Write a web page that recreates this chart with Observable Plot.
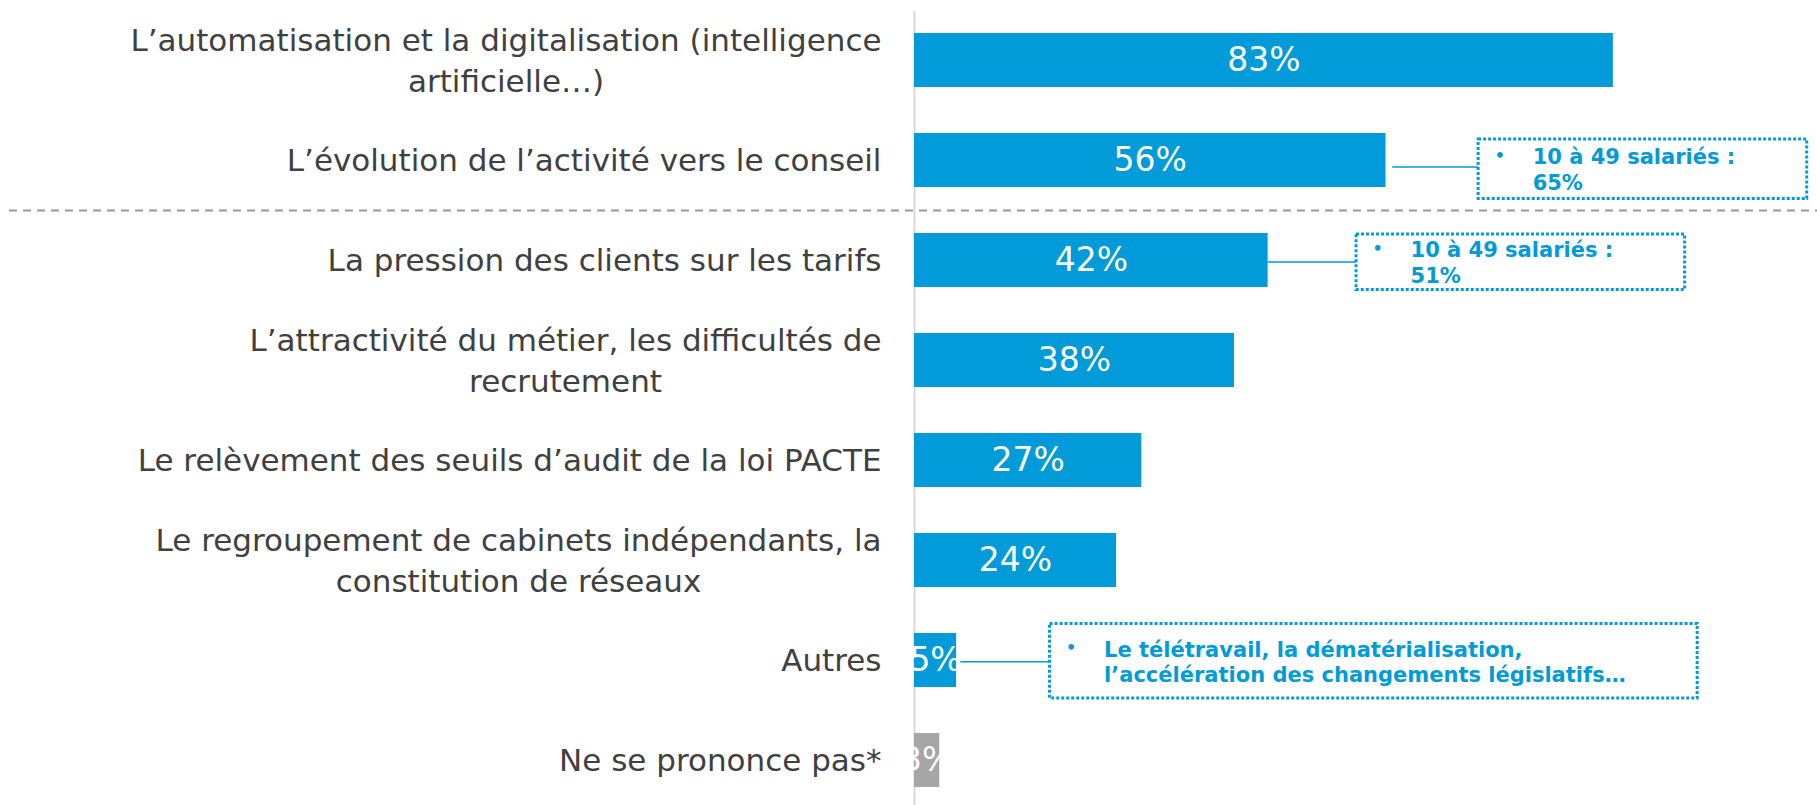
<!DOCTYPE html>
<html><head><meta charset="utf-8">
<script src="https://cdn.jsdelivr.net/npm/d3@7"></script>
<script src="https://cdn.jsdelivr.net/npm/@observablehq/plot@0.6"></script>
<style>
html,body{margin:0;padding:0;background:#fff;}
#chart{width:1817px;height:805px;overflow:hidden;}
</style>
</head><body><div id="chart"></div>
<script>
// ---- data ----
const categories = [
  "L’automatisation et la digitalisation (intelligence\nartificielle…)",
  "L’évolution de l’activité vers le conseil",
  "La pression des clients sur les tarifs",
  "L’attractivité du métier, les difficultés de\nrecrutement",
  "Le relèvement des seuils d’audit de la loi PACTE",
  "Le regroupement de cabinets indépendants, la\nconstitution de réseaux",
  "Autres",
  "Ne se prononce pas*"
];
const values = [83, 56, 42, 38, 27, 24, 5, 3];
const valueLabels = ["83%", "56%", "42%", "38%", "27%", "24%", "5%", "3%"];
const isNoAnswer = [false, false, false, false, false, false, false, true];
const noteCategories = [categories[1], categories[2], categories[6]];
const noteTexts = [
  "10 à 49 salariés :\n65%",
  "10 à 49 salariés :\n51%",
  "Le télétravail, la dématérialisation,\nl’accélération des changements législatifs…"
];
const separatorCategory = categories[2];

// ---- layout / style ----
const W = 1817, H = 805;
const mLeft = 914, mRight = 61, mTop = 32, mBottom = 16;
const BLUE = "#009bd8", GRAY = "#a6a6a6", TXT = "#404040";
const FONT = "'DejaVu Sans', Verdana, sans-serif";
const NOTE_FS = 21;
const pxPerUnit = (W - mLeft - mRight) / 100;

const rows = categories.map((c, i) => ({cat: c, value: values[i], label: valueLabels[i], nsp: isNoAnswer[i]}));

const ctx = document.createElement("canvas").getContext("2d");
ctx.font = `bold ${NOTE_FS}px ${FONT}`;
const measure = (t) => Math.max(...t.split("\n").map(l => ctx.measureText(l).width));

const noteLayout = [
  {offset: 11, gap: 0.8, dy: 8.5, lineDy: 6.5, top: 6, bottom: -11.4},
  {offset: 10.5, gap: 0, dy: 1.5, lineDy: 1.5, top: 1, bottom: -2.5},
  {offset: 11.1, gap: 0.5, dy: 0.8, lineDy: 1.3, top: -9.5, bottom: -11}
];
const TEXT_DX = 54, BULLET_DX = 16, PAD_RIGHT = 72;
const notes = noteCategories.map((c, i) => {
  const v = values[categories.indexOf(c)];
  const L = noteLayout[i];
  const left = v + L.offset;
  const widthPx = TEXT_DX + measure(noteTexts[i]) + PAD_RIGHT;
  return {cat: c, value: v, text: noteTexts[i], left, right: left + widthPx / pxPerUnit, L};
});

const noteMarks = notes.flatMap(n => [
  Plot.ruleY([n], {y: "cat", x1: d => d.value + n.L.gap, x2: "left", stroke: BLUE, strokeWidth: 1.5, dy: n.L.lineDy}),
  Plot.barX([n], {y: "cat", x1: "left", x2: "right", fill: "white", stroke: BLUE, strokeWidth: 3,
    strokeDasharray: "3,2", insetTop: n.L.top, insetBottom: n.L.bottom}),
  Plot.text([n], {y: "cat", x: "left", text: () => "•", dx: BULLET_DX, dy: n.L.dy - 13,
    textAnchor: "start", fill: BLUE, fontSize: 16, fontWeight: "bold"}),
  Plot.text([n], {y: "cat", x: "left", text: "text", dx: TEXT_DX, dy: n.L.dy, textAnchor: "start",
    fill: BLUE, fontSize: NOTE_FS, fontWeight: "bold", lineHeight: 1.22})
]);

const plot = Plot.plot({
  width: W, height: H,
  marginLeft: mLeft, marginRight: mRight, marginTop: mTop, marginBottom: mBottom,
  style: {fontFamily: FONT, background: "white", overflow: "visible"},
  x: {domain: [0, 100], axis: null},
  y: {domain: categories, paddingInner: 0.457, paddingOuter: 0, axis: null},
  color: {type: "identity"},
  marks: [
    Plot.ruleX([0], {stroke: "#d9d9d9", strokeWidth: 2, insetTop: -21, insetBottom: -16}),
    Plot.ruleY([separatorCategory], {y: d => d, dy: -50, stroke: "#999999", strokeWidth: 2,
      strokeDasharray: "8,6", insetLeft: -905, insetRight: -61}),
    Plot.barX(rows, {y: "cat", x: "value", fill: d => d.nsp ? GRAY : BLUE}),
    Plot.text(rows, {y: "cat", x: d => d.value / 2, text: "label", fill: "white", fontSize: 33}),
    Plot.text(rows, {y: "cat", text: "cat", frameAnchor: "left", textAnchor: "end", dx: -33, dy: -2,
      fill: TXT, fontSize: 31, lineHeight: 1.3, ariaDescription: "category-labels"}),
    ...noteMarks
  ]
});
document.getElementById("chart").appendChild(plot);

// center the lines of multi-line category labels within their right-aligned block
plot.querySelectorAll('g[aria-description="category-labels"] text').forEach(t => {
  const spans = t.querySelectorAll("tspan");
  if (spans.length > 1) {
    const w = t.getBBox().width;
    t.setAttribute("text-anchor", "middle");
    spans.forEach(s => s.setAttribute("x", -w / 2));
  }
});
</script>
</body></html>
